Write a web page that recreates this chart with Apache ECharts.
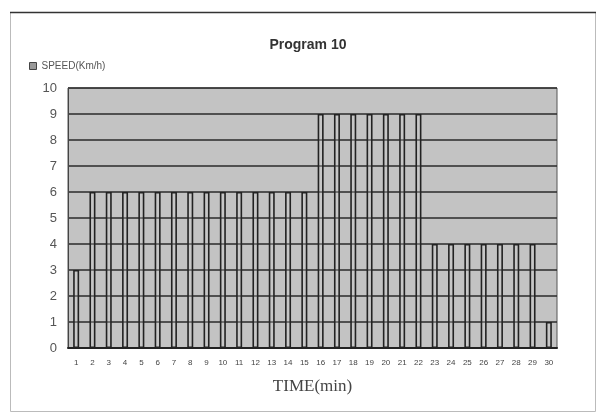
<!DOCTYPE html>
<html>
<head>
<meta charset="utf-8">
<script src="https://cdn.jsdelivr.net/npm/echarts@6/dist/echarts.min.js"></script>
<style>html,body{margin:0;padding:0;background:#fff;}#c{width:598px;height:417px;}</style>
</head>
<body>
<div id="c"></div>
<script>
const categories = ['1','2','3','4','5','6','7','8','9','10','11','12','13','14','15','16','17','18','19','20','21','22','23','24','25','26','27','28','29','30'];
const speed = [3,6,6,6,6,6,6,6,6,6,6,6,6,6,6,9,9,9,9,9,9,9,4,4,4,4,4,4,4,1];
const seriesName = 'SPEED(Km/h)';
const titleText = 'Program 10';
const xName = 'TIME(min)';

const chart = echarts.init(document.getElementById('c'), null, {renderer: 'canvas'});
chart.setOption({
  animation: false,
  backgroundColor: '#ffffff',
  graphic: [
    {type: 'rect', shape: {x: 10.5, y: 12.5, width: 585, height: 399}, style: {fill: 'none', stroke: '#bbbbbb', lineWidth: 1}, z: -1},
    {type: 'line', shape: {x1: 10, y1: 12.5, x2: 596, y2: 12.5}, style: {stroke: '#333', lineWidth: 1.5}}
  ],
  title: {
    text: titleText, left: 303, top: 33, textAlign: 'center',
    textStyle: {fontFamily: 'Liberation Sans, Arial, sans-serif', fontSize: 14, fontWeight: 'bold', color: '#333'}
  },
  legend: {
    left: 24, top: 56, itemWidth: 7, itemHeight: 7, itemGap: 4,
    textStyle: {fontFamily: 'Liberation Sans, Arial, sans-serif', fontSize: 10, color: '#555'},
    data: [{name: seriesName, icon: 'rect', itemStyle: {color: '#999', borderColor: '#444', borderWidth: 1}}]
  },
  grid: {left: 68, right: 41, top: 88, bottom: 69, show: true, backgroundColor: '#c3c3c3', borderColor: '#555', borderWidth: 1},
  xAxis: {
    type: 'category', data: categories,
    name: xName, nameLocation: 'middle', nameGap: 30,
    nameTextStyle: {fontFamily: 'Liberation Serif, Times New Roman, serif', fontSize: 17, color: '#444'},
    axisLine: {lineStyle: {color: '#222', width: 2}},
    axisTick: {show: false},
    axisLabel: {fontSize: 8, color: '#444', margin: 11, interval: 0, fontFamily: 'Liberation Sans, Arial, sans-serif'}
  },
  yAxis: {
    type: 'value', min: 0, max: 10, interval: 1,
    axisLine: {show: true, lineStyle: {color: '#444'}},
    axisTick: {show: false},
    axisLabel: {fontSize: 13, color: '#555', margin: 11, fontFamily: 'Liberation Sans, Arial, sans-serif'},
    splitLine: {lineStyle: {color: '#2a2a2a', width: 1.5}}
  },
  series: [{
    name: seriesName, type: 'bar', data: speed, barWidth: 6,
    itemStyle: {color: 'rgba(210,210,210,0.3)', borderColor: '#222', borderWidth: 1.6}
  }]
});
</script>
</body>
</html>
